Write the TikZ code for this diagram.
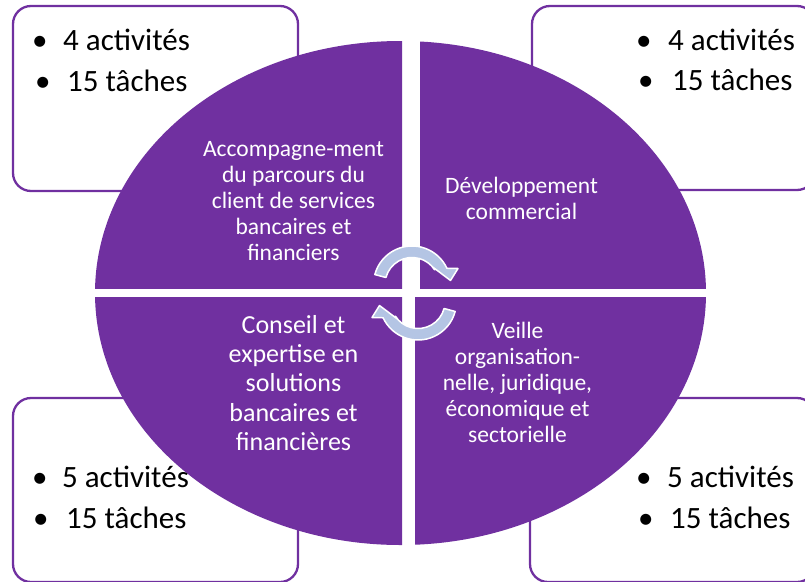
\documentclass[tikz,border=0pt]{standalone}
\usepackage{fontspec}
\setmainfont{Carlito}
\usepackage{xcolor}
\definecolor{mlpurple}{RGB}{112,48,160}
\definecolor{mlsteel}{RGB}{180,197,228}
\usepackage{tikz}

\tikzset{
  panel/.style={draw=mlpurple, line width=2.3pt, fill=white, rounded corners=18pt},
  quadtext/.style={text=white, align=center, inner sep=0pt, anchor=north,
                   font=\fontsize{23.5}{26}\selectfont},
  counttext/.style={anchor=base west, inner sep=0pt, font=\fontsize{31}{37}\selectfont},
  cyclearrow/.style={fill=mlsteel, draw=white, line width=1.5pt, line join=round}
}

\begin{document}
\begin{tikzpicture}[x=1pt, y=-1pt]
  \useasboundingbox (0,0) rectangle (805,581);

  % Corner panels
  \draw[panel] (13,6) rectangle (298,191);
  \draw[panel] (532,6) rectangle (815,190);
  \draw[panel] (13,398) rectangle (298,582);
  \draw[panel] (530,398) rectangle (815,582);

  % Quadrant 1
  \begin{scope}
    \clip (0,0) rectangle (402,288);
    \fill[mlpurple] (400.5,293) ellipse [x radius=305.5, y radius=252];
  \end{scope}
  % Quadrant 2
  \begin{scope}
    \clip (420,0) rectangle (805,288);
    \fill[mlpurple] (400.5,293) ellipse [x radius=305.5, y radius=252];
  \end{scope}
  % Quadrant 3
  \begin{scope}
    \clip (0,297) rectangle (402,581);
    \fill[mlpurple] (400.5,293) ellipse [x radius=305.5, y radius=252];
  \end{scope}
  % Quadrant 4
  \begin{scope}
    \clip (415,297) rectangle (805,581);
    \fill[mlpurple] (400.5,293) ellipse [x radius=305.5, y radius=252];
  \end{scope}

  % Counts in the panels
  \node[counttext] (tl act) at (32,50) {\makebox[31pt][l]{•}4 activités};
  \node[counttext] (tl task) at (35,91) {\makebox[32pt][l]{•}15 tâches};
  \node[counttext] (tr act) at (636,50) {\makebox[32pt][l]{•}4 activités};
  \node[counttext] (tr task) at (638,90) {\makebox[34pt][l]{•}15 tâches};
  \node[counttext] (bl act) at (32,487) {\makebox[30pt][l]{•}5 activités};
  \node[counttext] (bl task) at (33,528) {\makebox[33pt][l]{•}15 tâches};
  \node[counttext] (br act) at (636,487) {\makebox[31pt][l]{•}5 activités};
  \node[counttext] (br task) at (638,528) {\makebox[32pt][l]{•}15 tâches};

  % Quadrant labels
  \node[quadtext] (q1) at (293.5,137.8)
       {\strut Accompagne-ment\\du parcours du\\client de services\\bancaires et\\financiers};
  \node[quadtext] (q2) at (521.5,174.8)
       {\strut Développement\\commercial};
  \node[quadtext, font=\fontsize{26}{29.3}\selectfont] (q3) at (293.5,312.5)
       {\strut Conseil et\\expertise en\\solutions\\bancaires et\\financières};
  \node[quadtext] (q4) at (517.5,319.8)
       {\strut Veille\\organisation-\\nelle, juridique,\\économique et\\sectorielle};

  % Cycle arrows in the middle
  \filldraw[cyclearrow] (385.92,277.51) arc[start angle=-165, end angle=-33, radius=27]
       -- (432,266.5) -- (450.5,280.5) -- (458,268.5) -- (446.89,268.23)
       arc[start angle=-25, end angle=-165, radius=38.5] -- cycle;
  \filldraw[cyclearrow, rotate around={180:(415,293)}] (385.92,277.51)
       arc[start angle=-165, end angle=-33, radius=27]
       -- (432,266.5) -- (450.5,280.5) -- (458,268.5) -- (446.89,268.23)
       arc[start angle=-25, end angle=-165, radius=38.5] -- cycle;
\end{tikzpicture}
\end{document}
